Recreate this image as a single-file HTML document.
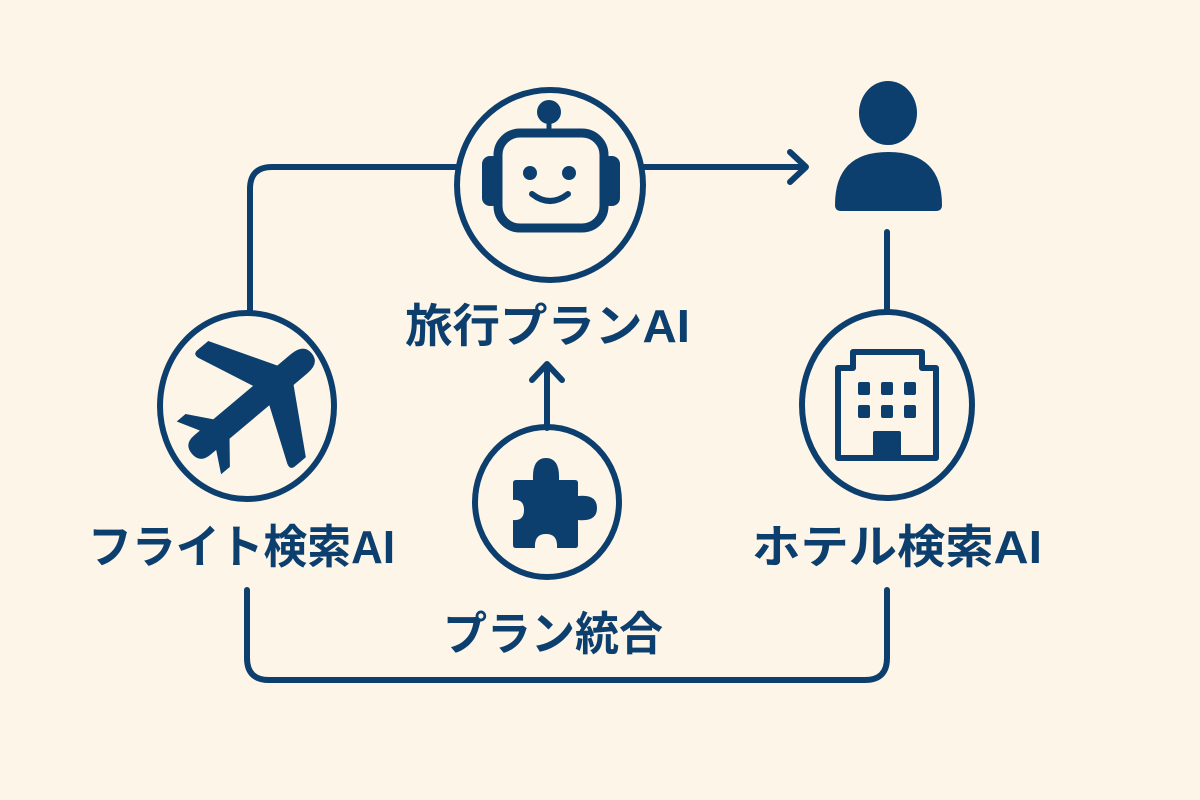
<!DOCTYPE html>
<html><head><meta charset="utf-8"><style>
html,body{margin:0;padding:0;background:#fdf6e8;}
svg{display:block}
text{font-family:"Liberation Sans","Noto Sans CJK JP",sans-serif;font-weight:bold;fill:#0d3f6e;}
</style></head><body>
<svg width="1200" height="800" viewBox="0 0 1200 800" xmlns="http://www.w3.org/2000/svg">
<rect width="1200" height="800" fill="#fdf6e8"/>
<g fill="none" stroke="#0d3f6e" stroke-width="6" stroke-linecap="round" stroke-linejoin="round">
  <path d="M457 167 H272 Q250 167 250 189 V310"/>
  <path d="M643 167 H805"/>
  <path d="M790 152 L806 167 L790 182"/>
  <path d="M887 232 V310"/>
  <path d="M547 428 V366"/>
  <path d="M532 380 L547 364 L562 380"/>
  <path d="M247 590 V658 Q247 680 269 680 H865 Q887 680 887 658 V590"/>
  <ellipse cx="550" cy="185" rx="93" ry="95"/>
  <ellipse cx="247" cy="406" rx="87" ry="93"/>
  <ellipse cx="887" cy="405" rx="85" ry="93"/>
  <ellipse cx="547" cy="502" rx="72" ry="75"/>
  <rect x="498" y="133" width="106" height="95" rx="22" stroke-width="9"/>
  <line x1="549" y1="128" x2="549" y2="123" stroke-width="5"/>
  <path d="M532 194 Q550 208 568 194" stroke-width="6"/>
  <path d="M853 368 V352 H922 V368 H936 V458 H838 V368 Z" stroke-width="6"/>
</g>
<g fill="#0d3f6e">
  <circle cx="549" cy="112" r="12"/>
  <rect x="482" y="156" width="18" height="50" rx="8"/>
  <rect x="602" y="156" width="18" height="50" rx="8"/>
  <circle cx="530" cy="173" r="7"/>
  <circle cx="569" cy="173" r="7"/>
  <ellipse cx="888" cy="113" rx="29" ry="32"/>
  <path d="M835 205 Q835 152 888 152 Q942 152 942 205 Q942 211 936 211 H841 Q835 211 835 205 Z"/>
  <g transform="translate(250,405) rotate(-40) scale(1.15)">
    <path d="M-66 0 Q-66 -11 -54 -11 H56 Q70 -11 70 0 Q70 11 56 11 H-54 Q-66 11 -66 0 Z"/>
    <path d="M14 -8 L-8 -60 Q-10 -66 -4 -66 L8 -66 L42 -8 Z"/>
    <path d="M14 8 L-8 60 Q-10 66 -4 66 L8 66 L42 8 Z"/>
    <path d="M-46 -8 L-58 -30 L-48 -30 L-30 -8 Z"/>
    <path d="M-46 8 L-58 30 L-48 30 L-30 8 Z"/>
  </g>
  <rect x="858" y="382" width="12" height="13" rx="2"/>
  <rect x="881" y="382" width="12" height="13" rx="2"/>
  <rect x="904" y="382" width="12" height="13" rx="2"/>
  <rect x="858" y="405" width="12" height="13" rx="2"/>
  <rect x="881" y="405" width="12" height="13" rx="2"/>
  <rect x="904" y="405" width="12" height="13" rx="2"/>
  <rect x="873" y="431" width="28" height="27" rx="2"/>
  <path d="M516 480 H533 Q532 458 546 458 Q560 458 559 480 H575 Q578 480 578 483 V496 Q597 494 597 508 Q597 522 578 520 V545 Q578 548 575 548 H557 Q558 534 546 534 Q534 534 535 548 H516 Q513 548 513 545 V520 Q524 521 524 510 Q524 499 513 500 V483 Q513 480 516 480 Z"/>
</g>
<text x="405" y="342" font-size="46" textLength="285" lengthAdjust="spacingAndGlyphs">旅行プランAI</text>
<text x="88" y="563" font-size="46" textLength="307" lengthAdjust="spacingAndGlyphs">フライト検索AI</text>
<text x="752" y="563" font-size="46" textLength="290" lengthAdjust="spacingAndGlyphs">ホテル検索AI</text>
<text x="443" y="650" font-size="46" textLength="220" lengthAdjust="spacingAndGlyphs">プラン統合</text>
</svg>
</body></html>
